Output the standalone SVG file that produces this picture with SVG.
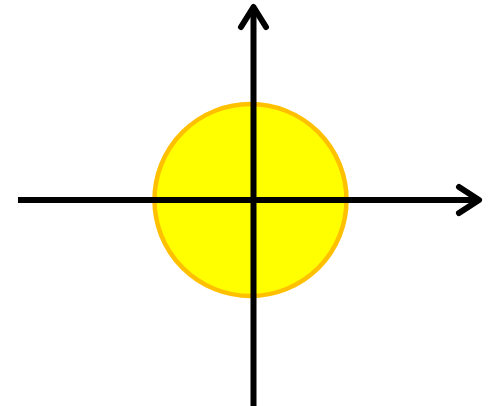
<svg xmlns="http://www.w3.org/2000/svg" width="492" height="406" viewBox="0 0 492 406">
<style>
.axis{stroke:#000;stroke-width:6;fill:none}
.head{stroke:#000;stroke-width:6;fill:none;stroke-linecap:round;stroke-linejoin:round}
</style>
<rect width="492" height="406" fill="#fff"/>
<g id="circle">
<circle cx="250.5" cy="200" r="96" fill="#FFFF00" stroke="#FFC000" stroke-width="4.5"/>
</g>
<g id="connectors">
<line class="axis" x1="18" y1="200" x2="478" y2="200"/>
<polyline class="head" points="459,187 479,200 459,213"/>
<line class="axis" x1="253.5" y1="406" x2="253.5" y2="8"/>
<polyline class="head" points="241,27 253.5,7 266,27"/>
</g>
</svg>
